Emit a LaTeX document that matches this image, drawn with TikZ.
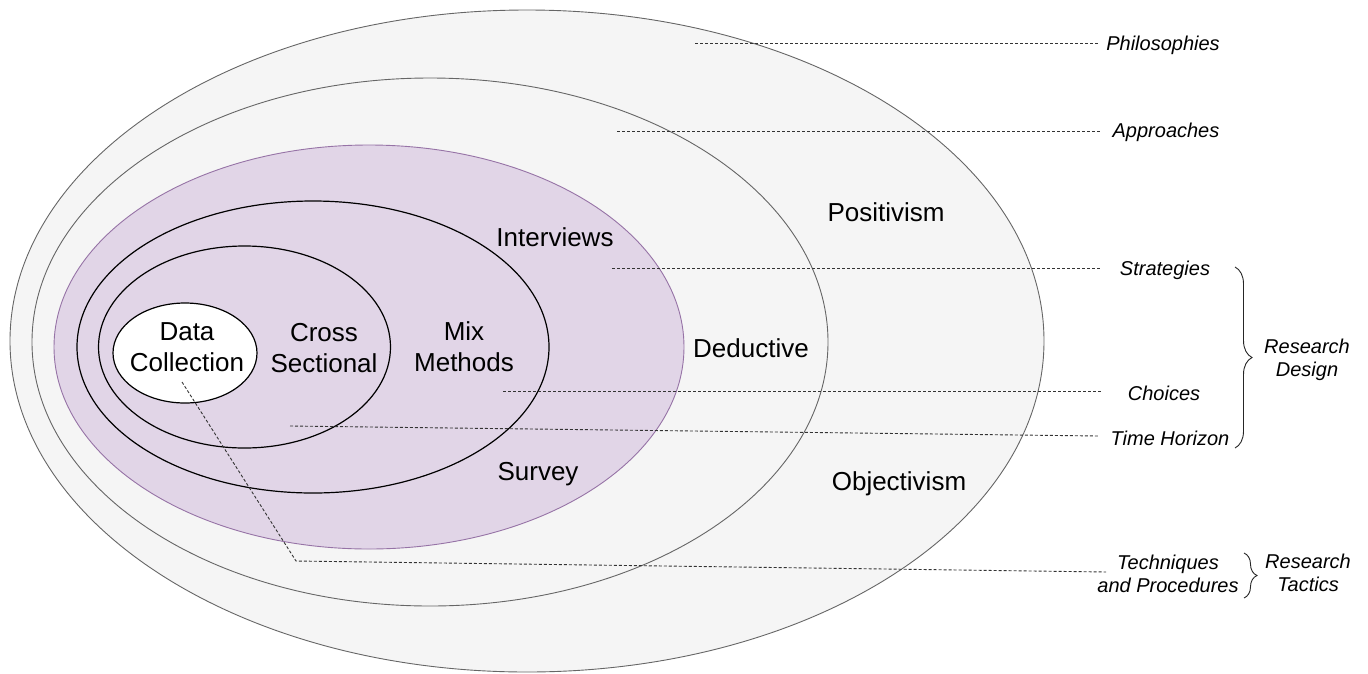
\documentclass[tikz,border=0pt]{standalone}
\usepackage{fontspec}
\setmainfont{Liberation Sans}
\usetikzlibrary{shapes.geometric,decorations.pathreplacing}
\definecolor{grayfill}{HTML}{F5F5F5}
\definecolor{graystroke}{HTML}{666666}
\definecolor{purplefill}{HTML}{E1D5E7}
\definecolor{purplestroke}{HTML}{9673A6}
\begin{document}
\begin{tikzpicture}[x=1pt,y=-1pt,
  ring/.style={ellipse, inner sep=0pt, outer sep=0pt},
  grayring/.style={ring, draw=graystroke, fill=grayfill, line width=0.9pt},
  blackring/.style={ring, draw=black, line width=1.2pt},
  biglabel/.style={font=\fontsize{26}{31}\selectfont, align=center, inner sep=0pt},
  sidelabel/.style={font=\fontsize{20}{23}\selectfont\itshape, align=center, inner sep=0pt},
  guide/.style={draw=black!80, dash pattern=on 3pt off 2pt, line width=0.9pt},
  bracestyle/.style={draw=black!85, line width=0.9pt, decorate, decoration={brace, amplitude=#1}}]
\useasboundingbox (0,0) rectangle (1368,673);
% rings
\node[grayring, minimum width=1034pt, minimum height=662pt] (phil) at (527,341) {};
\node[grayring, minimum width=796pt, minimum height=528pt] (appr) at (430,342) {};
\node[ring, draw=purplestroke, fill=purplefill, line width=0.9pt, minimum width=630pt, minimum height=404pt] (strat) at (369,347) {};
\node[blackring, minimum width=472pt, minimum height=292pt] (choice) at (313,347) {};
\node[blackring, minimum width=292pt, minimum height=202pt] (time) at (244.5,347) {};
\node[blackring, fill=white, minimum width=144pt, minimum height=100pt] (data) at (185,353) {};
% ring labels
\node[biglabel] (positivism) at (886,212) {Positivism};
\node[biglabel] (objectivism) at (899,484) {Objectivism};
\node[biglabel] (deductive) at (751,348) {Deductive};
\node[biglabel] (interviews) at (555,237) {Interviews};
\node[biglabel] (survey) at (538,474) {Survey};
\node[biglabel] (mix) at (464,347) {Mix\\Methods};
\node[biglabel] (cross) at (324,348) {Cross\\Sectional};
\node[biglabel] (datalbl) at (187,347) {Data\\Collection};
% side labels
\node[sidelabel] (lphil) at (1163,45) {Philosophies};
\node[sidelabel] (lappr) at (1166,132) {Approaches};
\node[sidelabel] (lstrat) at (1165,270) {Strategies};
\node[sidelabel] (lchoice) at (1164,393) {Choices};
\node[sidelabel] (ltime) at (1170,438) {Time Horizon};
\node[sidelabel] (ltech) at (1168,574) {Techniques\\and Procedures};
\node[sidelabel] (ldesign) at (1307,360) {Research\\Design};
\node[sidelabel] (ltactics) at (1308,573) {Research\\Tactics};
% guide end points
\coordinate (s1) at (695,43);  \coordinate (e1) at (1098,43);
\coordinate (s2) at (617,131); \coordinate (e2) at (1100,131);
\coordinate (s3) at (612,268); \coordinate (e3) at (1101,268);
\coordinate (s4) at (503,391); \coordinate (e4) at (1101,391);
\coordinate (s5) at (290,426); \coordinate (e5) at (1098,436);
\coordinate (s6) at (182,382); \coordinate (k6) at (296,561); \coordinate (e6) at (1106,572);
\draw[guide] (s1) -- (e1);
\draw[guide] (s2) -- (e2);
\draw[guide] (s3) -- (e3);
\draw[guide] (s4) -- (e4);
\draw[guide] (s5) -- (e5);
\draw[guide] (s6) -- (k6) -- (e6);
% braces
\coordinate (b1t) at (1235,267); \coordinate (b1b) at (1235,448);
\coordinate (b2t) at (1244,553); \coordinate (b2b) at (1244,598);
\draw[bracestyle=17pt] (b1t) -- (b1b);
\draw[bracestyle=13pt] (b2t) -- (b2b);
\end{tikzpicture}
\end{document}
